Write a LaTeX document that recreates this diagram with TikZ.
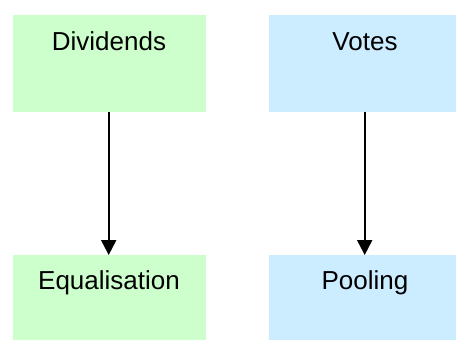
\documentclass[tikz,border=0pt]{standalone}
\usepackage{fontspec}
\setmainfont{Liberation Sans}
\usetikzlibrary{arrows.meta}
\definecolor{boxgreen}{HTML}{CCFFCC}
\definecolor{boxblue}{HTML}{CCECFF}
\tikzset{
  box/.style={draw=none, rectangle, inner sep=0pt, minimum width=193pt, minimum height=97pt, anchor=north west},
  lbl/.style={anchor=base, inner sep=0pt, font=\fontsize{26}{31}\selectfont},
  conn/.style={line width=2pt, -{Triangle[width=15pt,length=15pt]}}
}
\begin{document}
\begin{tikzpicture}[x=1pt,y=-1pt]
\useasboundingbox (0,0) rectangle (456,340);
\clip (0,0) rectangle (456,340);
\fill[white] (0,0) rectangle (456,340);
\node[box, fill=boxgreen] (div) at (13,15) {};
\node[box, fill=boxblue] (vot) at (269,15) {};
\node[box, fill=boxgreen] (equ) at (13,255) {};
\node[box, fill=boxblue] (poo) at (269,255) {};
\node[lbl] (tdiv) at (109,50) {Dividends};
\node[lbl] (tvot) at (365,50) {Votes};
\node[lbl] (tequ) at (109,289) {Equalisation};
\node[lbl] (tpoo) at (365,289) {Pooling};
\draw[conn] ([xshift=-1pt]div.south) -- ([xshift=-1pt]equ.north);
\draw[conn] ([xshift=-1pt]vot.south) -- ([xshift=-1pt]poo.north);
\end{tikzpicture}
\end{document}
